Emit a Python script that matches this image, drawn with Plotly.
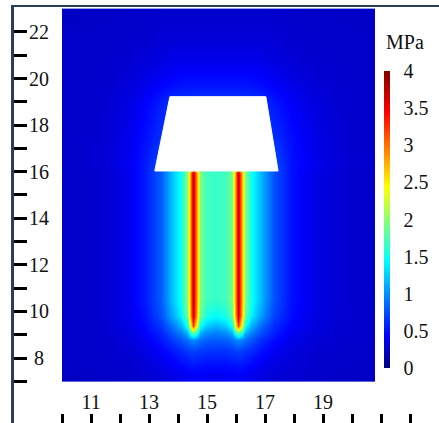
import plotly.graph_objects as go

# ---- data ----
x_centers = [10.5, 11.5, 12.3, 12.9, 13.4, 13.8, 14.1, 14.3, 14.42, 14.53, 14.64, 14.76, 14.95,
             15.3, 15.65, 15.85, 15.97, 16.08, 16.19, 16.31, 16.5, 16.85, 17.3, 17.9, 18.7, 19.6, 20.4]
y_centers = [7.25, 7.75, 8.3, 8.8, 9.1, 9.4, 9.8, 10.5, 12.5, 15.0, 15.95, 16.2, 17.5, 19.0, 19.8, 20.8, 21.8, 22.6]

stress_mpa = [
    [0.24, 0.25, 0.26, 0.28, 0.31, 0.35, 0.38, 0.40, 0.41, 0.42, 0.41, 0.41, 0.40, 0.40, 0.40, 0.41, 0.41, 0.42, 0.41, 0.40, 0.38, 0.34, 0.30, 0.28, 0.26, 0.25, 0.24],
    [0.25, 0.25, 0.27, 0.31, 0.36, 0.42, 0.47, 0.50, 0.52, 0.53, 0.52, 0.51, 0.50, 0.50, 0.50, 0.51, 0.52, 0.53, 0.52, 0.50, 0.46, 0.40, 0.34, 0.30, 0.27, 0.25, 0.25],
    [0.25, 0.26, 0.29, 0.35, 0.43, 0.52, 0.60, 0.65, 0.68, 0.70, 0.68, 0.66, 0.64, 0.63, 0.64, 0.66, 0.68, 0.70, 0.68, 0.65, 0.60, 0.50, 0.40, 0.33, 0.28, 0.26, 0.25],
    [0.25, 0.27, 0.31, 0.40, 0.52, 0.66, 0.78, 0.88, 0.95, 1.00, 0.95, 0.88, 0.82, 0.80, 0.82, 0.88, 0.95, 1.00, 0.95, 0.88, 0.78, 0.62, 0.48, 0.37, 0.30, 0.27, 0.26],
    [0.25, 0.27, 0.33, 0.44, 0.58, 0.78, 0.95, 1.15, 1.55, 1.90, 1.55, 1.15, 1.00, 0.95, 1.00, 1.15, 1.55, 1.90, 1.55, 1.15, 0.95, 0.75, 0.55, 0.40, 0.32, 0.28, 0.26],
    [0.25, 0.28, 0.35, 0.48, 0.65, 0.90, 1.15, 1.50, 2.30, 3.20, 2.30, 1.50, 1.25, 1.15, 1.25, 1.50, 2.30, 3.20, 2.30, 1.50, 1.15, 0.85, 0.60, 0.44, 0.33, 0.28, 0.26],
    [0.25, 0.28, 0.37, 0.52, 0.75, 1.10, 1.40, 1.85, 2.70, 3.65, 2.70, 1.85, 1.55, 1.45, 1.55, 1.85, 2.70, 3.65, 2.70, 1.85, 1.40, 1.05, 0.70, 0.48, 0.34, 0.29, 0.26],
    [0.25, 0.28, 0.38, 0.55, 0.80, 1.20, 1.50, 1.95, 2.75, 3.70, 2.75, 1.95, 1.70, 1.65, 1.70, 1.95, 2.75, 3.70, 2.75, 1.95, 1.50, 1.15, 0.75, 0.50, 0.35, 0.29, 0.26],
    [0.25, 0.28, 0.38, 0.55, 0.80, 1.20, 1.50, 1.95, 2.75, 3.70, 2.75, 1.95, 1.70, 1.65, 1.70, 1.95, 2.75, 3.70, 2.75, 1.95, 1.50, 1.15, 0.75, 0.50, 0.35, 0.29, 0.26],
    [0.25, 0.28, 0.38, 0.55, 0.80, 1.20, 1.50, 1.95, 2.75, 3.70, 2.75, 1.95, 1.70, 1.65, 1.70, 1.95, 2.75, 3.70, 2.75, 1.95, 1.50, 1.15, 0.75, 0.50, 0.35, 0.29, 0.26],
    [0.25, 0.28, 0.38, 0.55, 0.80, 1.20, 1.50, 1.95, 2.75, 3.70, 2.75, 1.95, 1.70, 1.65, 1.70, 1.95, 2.75, 3.70, 2.75, 1.95, 1.50, 1.15, 0.75, 0.50, 0.35, 0.29, 0.26],
    [0.26, 0.30, 0.40, 0.55, 0.75, 1.10, 1.40, 1.60, 1.80, 2.00, 1.80, 1.60, 1.50, 1.50, 1.50, 1.60, 1.80, 2.00, 1.80, 1.60, 1.40, 1.05, 0.75, 0.50, 0.38, 0.30, 0.27],
    [0.26, 0.29, 0.38, 0.50, 0.62, 0.70, 0.80, 0.80, 0.80, 0.80, 0.80, 0.80, 0.80, 0.80, 0.80, 0.80, 0.80, 0.80, 0.80, 0.80, 0.80, 0.70, 0.62, 0.48, 0.36, 0.29, 0.26],
    [0.26, 0.28, 0.34, 0.44, 0.55, 0.62, 0.65, 0.65, 0.65, 0.65, 0.65, 0.65, 0.65, 0.65, 0.65, 0.65, 0.65, 0.65, 0.65, 0.65, 0.65, 0.60, 0.52, 0.42, 0.33, 0.28, 0.26],
    [0.26, 0.27, 0.31, 0.37, 0.43, 0.47, 0.49, 0.50, 0.50, 0.50, 0.50, 0.50, 0.50, 0.50, 0.50, 0.50, 0.50, 0.50, 0.50, 0.50, 0.49, 0.47, 0.42, 0.36, 0.30, 0.27, 0.26],
    [0.25, 0.26, 0.28, 0.31, 0.34, 0.36, 0.37, 0.37, 0.37, 0.37, 0.37, 0.37, 0.37, 0.37, 0.37, 0.37, 0.37, 0.37, 0.37, 0.37, 0.37, 0.36, 0.33, 0.30, 0.27, 0.26, 0.25],
    [0.25, 0.25, 0.26, 0.27, 0.29, 0.30, 0.30, 0.30, 0.30, 0.30, 0.30, 0.30, 0.30, 0.30, 0.30, 0.30, 0.30, 0.30, 0.30, 0.30, 0.30, 0.30, 0.29, 0.27, 0.26, 0.25, 0.25],
    [0.24, 0.25, 0.25, 0.26, 0.27, 0.27, 0.27, 0.27, 0.27, 0.27, 0.27, 0.27, 0.27, 0.27, 0.27, 0.27, 0.27, 0.27, 0.27, 0.27, 0.27, 0.27, 0.27, 0.26, 0.25, 0.25, 0.24],
]

# white block (cap) outline
cap_x = [13.72, 17.03, 17.45, 13.20, 13.72]
cap_y = [19.22, 19.22, 16.03, 16.03, 19.22]

x_label_vals = [11, 13, 15, 17, 19]
x_label_text = ["11", "13", "15", "17", "19"]
x_minor_vals = [9, 10, 12, 14, 16, 18, 20, 21, 22]
y_label_vals = [8, 10, 12, 14, 16, 18, 20, 22]
y_label_text = ["\u20058", "10", "12", "14", "16", "18", "20", "22"]
y_minor_vals = [7, 9, 11, 13, 15, 17, 19, 21]
cbar_vals = [0, 0.5, 1, 1.5, 2, 2.5, 3, 3.5, 4]
cbar_text = ["0", "0.5", "1", "1.5", "2", "2.5", "3", "3.5", "4"]
unit_label = "MPa"

jet = [[0.0, "rgb(0,0,128)"], [0.11, "rgb(0,0,255)"], [0.36, "rgb(0,255,255)"],
       [0.61, "rgb(255,255,0)"], [0.86, "rgb(255,0,0)"], [1.0, "rgb(128,0,0)"]]

FONT = "Liberation Serif"
LINE = "#2c3d5a"

fig = go.Figure()
fig.add_trace(go.Heatmap(
    x=x_centers, y=y_centers, z=stress_mpa,
    zmin=0, zmax=4, zsmooth="best", colorscale=jet,
    hoverinfo="skip",
    colorbar=dict(
        x=0.8706, xanchor="left", xpad=0,
        y=0.1322, yanchor="bottom", ypad=0,
        lenmode="pixels", len=297, thickness=6,
        outlinewidth=0,
        tickmode="array", tickvals=cbar_vals, ticktext=cbar_text,
        ticks="outside", ticklen=10, tickcolor="rgba(0,0,0,0)",
        tickfont=dict(family=FONT, size=20, color="#111"),
    ),
))
fig.add_trace(go.Scatter(
    x=cap_x, y=cap_y, mode="lines", fill="toself", fillcolor="white",
    line=dict(color="white", width=1), hoverinfo="skip", showlegend=False,
))

fig.add_annotation(
    text=unit_label, xref="paper", yref="paper", x=0.8706, y=0.9159,
    xanchor="left", yanchor="middle", showarrow=False,
    font=dict(family=FONT, size=20, color="#111"),
)

fig.update_layout(
    width=439, height=423,
    margin=dict(l=14, r=0, t=7, b=0, pad=0, autoexpand=False),
    paper_bgcolor="white", plot_bgcolor="white",
    font=dict(family=FONT, size=20, color="#111"),
    showlegend=False,
    xaxis=dict(
        range=[8.345, 23.0], showgrid=False, zeroline=False, automargin=False,
        showline=True, mirror=True, linecolor=LINE, linewidth=2,
        tickmode="array", tickvals=x_label_vals, ticktext=x_label_text,
        ticks="inside", ticklen=9, tickwidth=3, tickcolor="black",
        ticklabelposition="inside", ticklabelstandoff=2,
        tickfont=dict(family=FONT, size=20, color="#111"),
        minor=dict(tickmode="array", tickvals=x_minor_vals, ticks="inside",
                   ticklen=9, tickwidth=3, tickcolor="black", showgrid=False),
    ),
    yaxis=dict(
        range=[5.21, 23.07], showgrid=False, zeroline=False, automargin=False,
        showline=True, linecolor=LINE, linewidth=3,
        tickmode="array", tickvals=y_label_vals, ticktext=y_label_text,
        ticks="inside", ticklen=13, tickwidth=3, tickcolor="black",
        ticklabelposition="inside", ticklabelstandoff=3,
        tickfont=dict(family=FONT, size=20, color="#111"),
        minor=dict(tickmode="array", tickvals=y_minor_vals, ticks="inside",
                   ticklen=13, tickwidth=3, tickcolor="black", showgrid=False),
    ),
)

fig.write_html(
    "out.html",
    config={"displayModeBar": False},
    post_script="document.body.style.margin='0';document.body.style.overflow='hidden';",
)
